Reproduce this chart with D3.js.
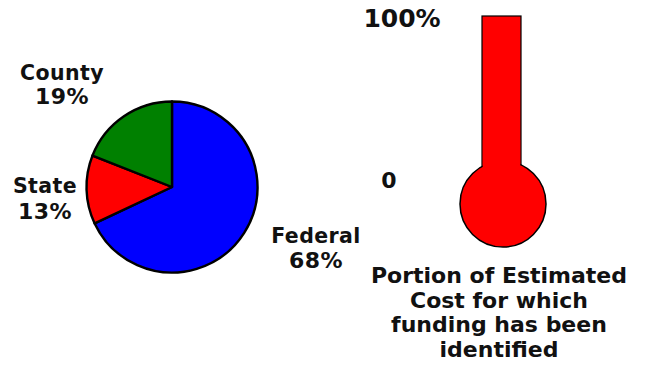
<!DOCTYPE html>
<html>
<head>
<meta charset="utf-8">
<script src="https://cdn.jsdelivr.net/npm/d3@7"></script>
<style>
  html, body { margin: 0; padding: 0; background: #fff; }
  svg { display: block; }
  text { font-family: "DejaVu Sans", Verdana, sans-serif; font-weight: bold; fill: #111; }
</style>
</head>
<body>
<svg id="chart" width="652" height="379"></svg>
<script>
const categories = ["Federal", "State", "County"];
const shares = [68, 13, 19];
const sliceColors = ["#0000FF", "#FF0000", "#008000"];
const fundedPercent = 100;
const gaugeTicks = [0, 100];
const gaugeTickLabels = ["0", "100%"];
const titleLines = ["Portion of Estimated", "Cost for which", "funding has been", "identified"];

const svg = d3.select("#chart");

// ---- Pie ----
const cx = 172, cy = 187, r = 85.5;
const pie = d3.pie().sort(null).value(d => d.v).startAngle(0).endAngle(2 * Math.PI);
const arc = d3.arc().innerRadius(0).outerRadius(r);
const data = categories.map((c, i) => ({ c, v: shares[i], color: sliceColors[i] }));
const g = svg.append("g").attr("transform", `translate(${cx},${cy})`);
g.selectAll("path").data(pie(data)).join("path")
  .attr("d", arc)
  .attr("fill", d => d.data.color)
  .attr("stroke", "#000")
  .attr("stroke-width", 2.4)
  .attr("stroke-linejoin", "round");

const labelPos = {
  Federal: [316, 243, 268],
  State: [45, 193, 219],
  County: [62, 80, 104]
};
data.forEach(d => {
  const p = labelPos[d.c];
  const t = svg.append("text").attr("text-anchor", "middle").attr("font-size", 20.5).attr("letter-spacing", 0.4);
  t.append("tspan").attr("x", p[0]).attr("y", p[1]).text(d.c);
  t.append("tspan").attr("x", p[0]).attr("y", p[2]).attr("font-size", 22).text(d.v + "%");
});

// ---- Thermometer ----
const y = d3.scaleLinear().domain([0, 100]).range([180, 16]);
const tubeX = 482, tubeW = 39;
const bulbCx = 503, bulbCy = 204, bulbR = 43;

svg.append("rect")
  .attr("x", tubeX).attr("y", y(fundedPercent))
  .attr("width", tubeW).attr("height", bulbCy - y(fundedPercent))
  .attr("fill", "#FF0000").attr("stroke", "#000").attr("stroke-width", 1.2);
svg.append("circle")
  .attr("cx", bulbCx).attr("cy", bulbCy).attr("r", bulbR)
  .attr("fill", "#FF0000").attr("stroke", "#000").attr("stroke-width", 1.5);
svg.append("rect")
  .attr("x", tubeX + 0.8).attr("y", 140)
  .attr("width", tubeW - 1.6).attr("height", bulbCy - 140)
  .attr("fill", "#FF0000");

svg.selectAll("text.tick").data(gaugeTicks).join("text")
  .attr("class", "tick")
  .attr("x", (d, i) => i === 0 ? 389 : 402)
  .attr("y", (d, i) => y(d) + (i === 0 ? 8 : 10.5))
  .attr("text-anchor", "middle")
  .attr("font-size", (d, i) => i === 0 ? 22 : 25)
  .text((d, i) => gaugeTickLabels[i]);

// ---- Title ----
const title = svg.append("text").attr("text-anchor", "middle").attr("font-size", 22);
titleLines.forEach((l, i) => {
  title.append("tspan").attr("x", 499).attr("y", 283 + i * 24.5).text(l);
});
</script>
</body>
</html>
